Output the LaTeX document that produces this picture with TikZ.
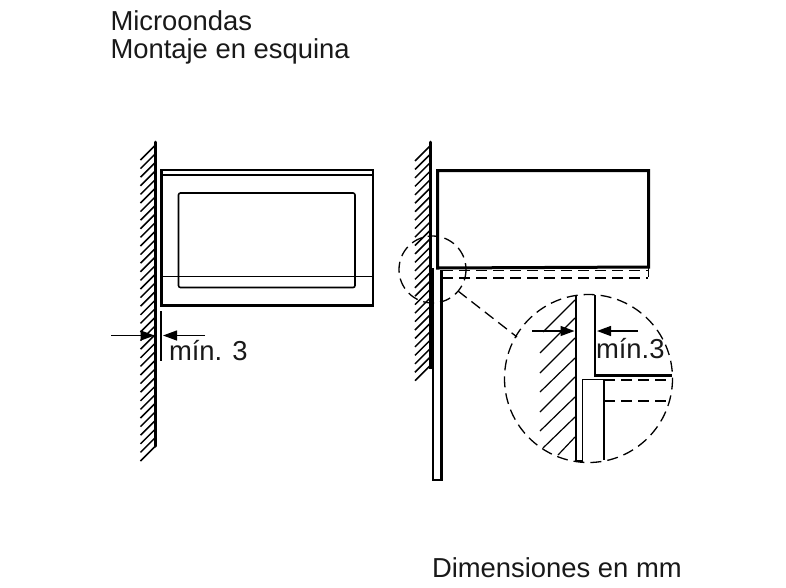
\documentclass[tikz,border=0pt]{standalone}
\usepackage{fontspec}
\setmainfont{Liberation Sans}
\usetikzlibrary{arrows.meta}
\tikzset{
  label text/.style={anchor=base west,inner sep=0pt,outer sep=0pt,font=\fontsize{27.4}{27.4}\selectfont,text=black!90},
  wall/.style={line width=3pt,line cap=round},
  hatch/.style={line width=1.5pt},
  thinhatch/.style={line width=1.2pt},
  outline/.style={line width=2.8pt,line join=miter},
  fine/.style={line width=1.6pt},
  dash line/.style={line width=1.3pt,dash pattern=on 11pt off 6pt},
  dim arrow/.style={line width=1.3pt,-{Triangle[length=14pt,width=10pt]}}
}
\begin{document}
\begin{tikzpicture}[x=1pt,y=-1pt]
\useasboundingbox (0,0) rectangle (786,587);
\fill[white] (0,0) rectangle (786,587);
% titles
\node[label text] (t1) at (110.5,30) {Microondas};
\node[label text] (t2) at (110.5,58) {Montaje en esquina};
\node[label text] (t3) at (432,577) {Dimensiones en mm};
% left wall
\draw[wall] (155.5,142) -- (155.5,446);
\foreach \k in {0,...,35} \draw[hatch] (140.5,160+\k*8.6) -- ++(14.5,-14.5);
% oven front
\draw[outline] (161.5,170) rectangle (373,305.5);
\draw[fine] (161.5,175) -- (373,175);
\draw[fine] (161.5,276.5) -- (373,276.5);
\draw[fine,rounded corners=2pt] (178.5,193) rectangle (355,287.5);
% left dimension
\draw[fine] (161,311) -- (161,361);
\coordinate (la0) at (111,335.5); \coordinate (la1) at (154.5,335.5);
\coordinate (lb0) at (205,335.5); \coordinate (lb1) at (163,335.5);
\draw[dim arrow] (la0) -- (la1);
\draw[dim arrow] (lb0) -- (lb1);
\node[label text] (m1) at (169,360.5) {mín. 3};
% right wall
\draw[wall] (430,142) -- (430,268);
\foreach \k in {0,...,26} \draw[hatch] (415,161+\k*8.45) -- ++(14.5,-14.5);
\draw[line width=5pt] (431.5,268) -- (431.5,369);
% panel
\draw[outline] (433,268) -- (433,480) -- (441.5,480) -- (441.5,270);
% oven side
\draw[line width=3pt] (437.5,268) -- (437.5,170.5) -- (648.5,170.5) -- (648.5,267) -- cycle;
\draw[dash line] (442,270.5) -- (648,270.5);
\draw[dash line] (442,278) -- (648,278);
\draw[fine] (648.5,267) -- (648.5,277);
% detail circles
\draw[dash line] (432.5,269.5) circle[radius=33.5];
\draw[dash line] (588.5,378.5) circle[radius=84];
\coordinate (ld0) at (458,291); \coordinate (ld1) at (517,337);
\draw[dash line] (ld0) -- (ld1);
% detail
\draw[line width=1.9pt] (576,296) -- (576,461) -- (582.5,461) -- (582.5,379.5) -- (604,379.5) -- (604,460);
\draw[line width=2.8pt] (595,295) -- (595,375.5) -- (672,375.5);
\draw[dash line] (604,380) -- (672,380);
\draw[dash line] (604,401) -- (670,401);
\foreach \a/\b/\c/\d in {543/332/575/300,540/353/575/318,540/373/575/338,540/392/575/358,540/412/575/377,540/431/575/397,543/448/575/417,558/455/575/437}
  \draw[thinhatch] (\a,\b) -- (\c,\d);
\coordinate (da0) at (532,331); \coordinate (da1) at (574.5,331);
\coordinate (db0) at (638,331); \coordinate (db1) at (597,331);
\draw[dim arrow] (da0) -- (da1);
\draw[dim arrow] (db0) -- (db1);
\node[label text] (m2) at (596,358) {mín.3};
\end{tikzpicture}
\end{document}
